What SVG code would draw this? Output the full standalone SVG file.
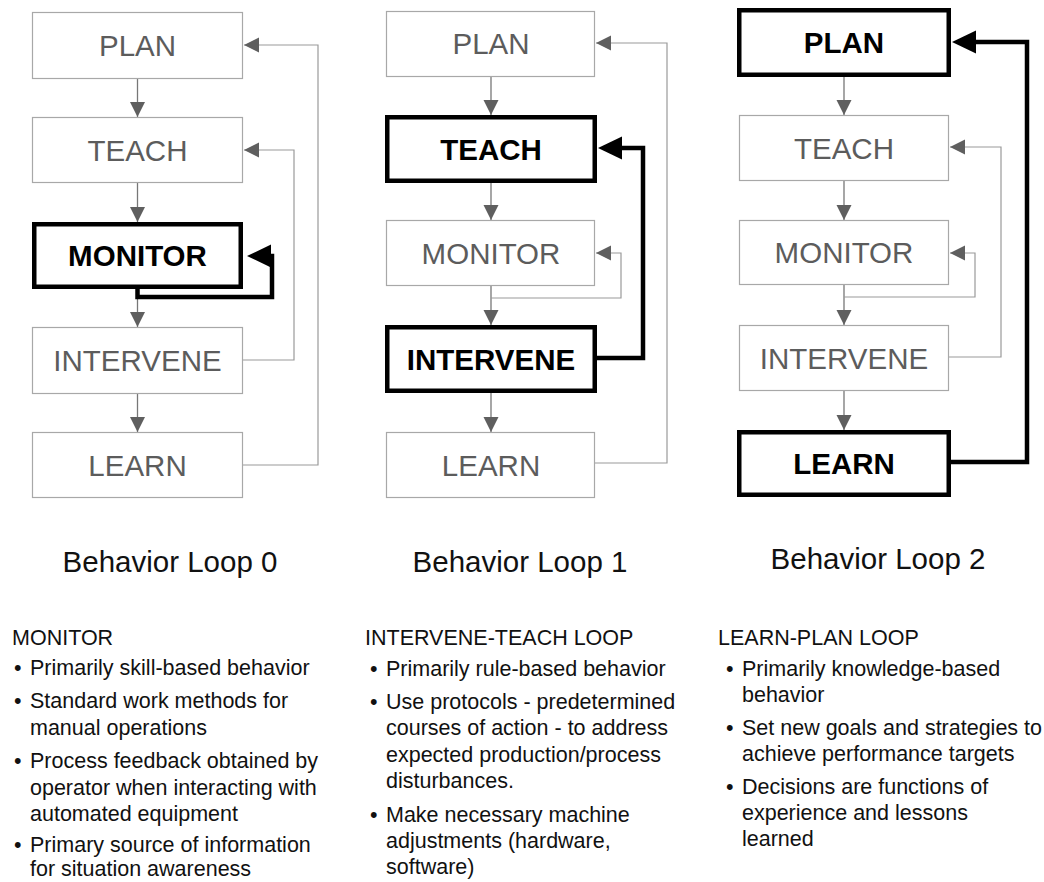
<svg xmlns="http://www.w3.org/2000/svg" width="1044" height="882" viewBox="0 0 1044 882">
<style>
.box{fill:#fff;stroke:#a8a8a8;stroke-width:1.2}
.hbox{fill:#fff;stroke:#000;stroke-width:4.5}
.nt{font-family:"Liberation Sans",Arial,sans-serif;font-size:29.5px;fill:#5c5c5c;text-anchor:middle}
.bt{font-family:"Liberation Sans",Arial,sans-serif;font-size:29.5px;font-weight:bold;fill:#000;text-anchor:middle}
.gl{fill:none;stroke:#9a9a9a;stroke-width:1.2}
.gd{fill:none;stroke:#777;stroke-width:1.3}
.kl{fill:none;stroke:#000;stroke-width:4.5;stroke-linejoin:miter}
.title{font-family:"Liberation Sans",Arial,sans-serif;font-size:29.5px;fill:#111;text-anchor:middle}
.tx{font-family:"Liberation Sans",Arial,sans-serif;font-size:21.5px;fill:#111}
</style>
<defs>
<marker id="ag" markerUnits="userSpaceOnUse" markerWidth="16" markerHeight="16" viewBox="0 0 16 16" refX="15" refY="7.5" orient="auto"><path d="M0,0 L15,7.5 L0,15 z" fill="#5f5f5f"/></marker>
<marker id="ak" markerUnits="userSpaceOnUse" markerWidth="26" markerHeight="24" viewBox="0 0 26 24" refX="2" refY="11.5" orient="auto"><path d="M0,0 L24,11.5 L0,23 z" fill="#000"/></marker>
</defs>

<g id="connectors">
<!-- loop 0 -->
<path class="gd" d="M137.5,79 V117" marker-end="url(#ag)"/>
<path class="gd" d="M137.5,183 V222" marker-end="url(#ag)"/>
<path class="gd" d="M137.5,289 V327" marker-end="url(#ag)"/>
<path class="gd" d="M137.5,394 V432" marker-end="url(#ag)"/>
<path class="gl" d="M243,465 H318 V45 H244" marker-end="url(#ag)"/>
<path class="gl" d="M243,360 H294 V150 H244" marker-end="url(#ag)"/>
<path class="kl" d="M137.5,289 V297 H272 V256 H269" marker-end="url(#ak)"/>
<!-- loop 1 -->
<path class="gd" d="M491,77 V115" marker-end="url(#ag)"/>
<path class="gd" d="M491,183 V220" marker-end="url(#ag)"/>
<path class="gd" d="M491,286 V325" marker-end="url(#ag)"/>
<path class="gd" d="M491,393 V432" marker-end="url(#ag)"/>
<path class="gl" d="M595,463 H667 V43 H596" marker-end="url(#ag)"/>
<path class="gl" d="M491,298 H621 V253 H596" marker-end="url(#ag)"/>
<path class="kl" d="M597,358 H643 V148 H620" marker-end="url(#ak)"/>
<!-- loop 2 -->
<path class="gd" d="M844,77 V115" marker-end="url(#ag)"/>
<path class="gd" d="M844,181 V220" marker-end="url(#ag)"/>
<path class="gd" d="M844,285 V325" marker-end="url(#ag)"/>
<path class="gd" d="M844,391 V430" marker-end="url(#ag)"/>
<path class="gl" d="M949,357 H1001 V147 H950" marker-end="url(#ag)"/>
<path class="gl" d="M844,297 H975 V253 H950" marker-end="url(#ag)"/>
<path class="kl" d="M951,462 H1027 V42 H974" marker-end="url(#ak)"/>
</g>

<g id="l0-plan"><rect class="box" x="32.5" y="12.5" width="210" height="66"/><text class="nt" x="137.5" y="56">PLAN</text></g>
<g id="l0-teach"><rect class="box" x="32.5" y="117.5" width="210" height="65"/><text class="nt" x="137.5" y="161">TEACH</text></g>
<g id="l0-monitor"><rect class="hbox" x="34.25" y="224.25" width="206.5" height="62.5"/><text class="bt" x="137.5" y="266">MONITOR</text></g>
<g id="l0-intervene"><rect class="box" x="32.5" y="327.5" width="210" height="66"/><text class="nt" x="137.5" y="371">INTERVENE</text></g>
<g id="l0-learn"><rect class="box" x="32.5" y="432.5" width="210" height="65"/><text class="nt" x="137.5" y="476">LEARN</text></g>

<g id="l1-plan"><rect class="box" x="386.5" y="11.5" width="208" height="65"/><text class="nt" x="491" y="54">PLAN</text></g>
<g id="l1-teach"><rect class="hbox" x="387.25" y="117.25" width="207.5" height="63.5"/><text class="bt" x="491" y="159.5">TEACH</text></g>
<g id="l1-monitor"><rect class="box" x="386.5" y="220.5" width="208" height="65"/><text class="nt" x="491" y="264">MONITOR</text></g>
<g id="l1-intervene"><rect class="hbox" x="387.25" y="327.25" width="207.5" height="63.5"/><text class="bt" x="491" y="369.5">INTERVENE</text></g>
<g id="l1-learn"><rect class="box" x="386.5" y="432.5" width="208" height="65"/><text class="nt" x="491" y="476">LEARN</text></g>

<g id="l2-plan"><rect class="hbox" x="739.25" y="10.25" width="209.5" height="64.5"/><text class="bt" x="844" y="53">PLAN</text></g>
<g id="l2-teach"><rect class="box" x="739.5" y="115.5" width="209" height="65"/><text class="nt" x="844" y="159">TEACH</text></g>
<g id="l2-monitor"><rect class="box" x="739.5" y="220.5" width="209" height="64"/><text class="nt" x="844" y="263">MONITOR</text></g>
<g id="l2-intervene"><rect class="box" x="739.5" y="325.5" width="209" height="65"/><text class="nt" x="844" y="369">INTERVENE</text></g>
<g id="l2-learn"><rect class="hbox" x="739.25" y="432.25" width="209.5" height="62.5"/><text class="bt" x="844" y="474">LEARN</text></g>

<g id="titles">
<text class="title" x="170" y="572">Behavior Loop 0</text>
<text class="title" x="520" y="572">Behavior Loop 1</text>
<text class="title" x="878" y="569">Behavior Loop 2</text>
</g>

<g id="desc0" class="tx">
<text x="12" y="645">MONITOR</text>
<text x="14" y="675">•</text><text x="30" y="675">Primarily skill-based behavior</text>
<text x="14" y="708">•</text><text x="30" y="708">Standard work methods for</text>
<text x="30" y="734.5">manual operations</text>
<text x="14" y="768">•</text><text x="30" y="768">Process feedback obtained by</text>
<text x="30" y="794.5">operator when interacting with</text>
<text x="30" y="821">automated equipment</text>
<text x="14" y="852">•</text><text x="30" y="852">Primary source of information</text>
<text x="30" y="876">for situation awareness</text>
</g>

<g id="desc1" class="tx">
<text x="365" y="645">INTERVENE-TEACH LOOP</text>
<text x="370" y="676">•</text><text x="386" y="676">Primarily rule-based behavior</text>
<text x="370" y="709">•</text><text x="386" y="709">Use protocols - predetermined</text>
<text x="386" y="735">courses of action - to address</text>
<text x="386" y="762">expected production/process</text>
<text x="386" y="788">disturbances.</text>
<text x="370" y="822">•</text><text x="386" y="822">Make necessary machine</text>
<text x="386" y="848">adjustments (hardware,</text>
<text x="386" y="874">software)</text>
</g>

<g id="desc2" class="tx">
<text x="718" y="645">LEARN-PLAN LOOP</text>
<text x="726" y="676">•</text><text x="742" y="676">Primarily knowledge-based</text>
<text x="742" y="702">behavior</text>
<text x="726" y="735">•</text><text x="742" y="735">Set new goals and strategies to</text>
<text x="742" y="761">achieve performance targets</text>
<text x="726" y="794">•</text><text x="742" y="794">Decisions are functions of</text>
<text x="742" y="820">experience and lessons</text>
<text x="742" y="846">learned</text>
</g>
</svg>
